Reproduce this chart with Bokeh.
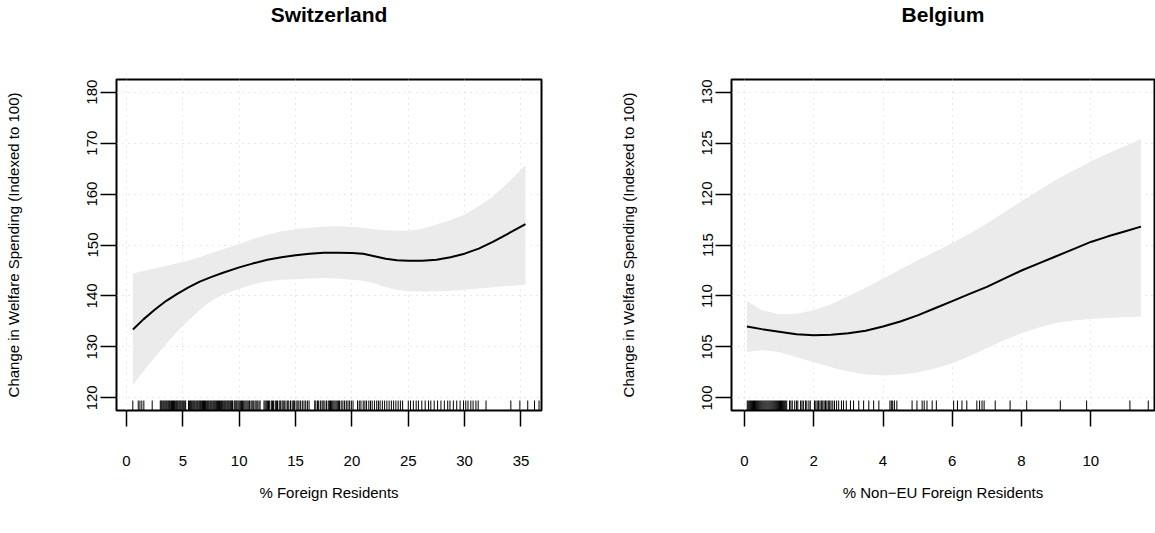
from bokeh.plotting import figure
from bokeh.models import Range1d, FixedTicker, Title
from bokeh.layouts import row
from bokeh.embed import file_html
from bokeh.resources import INLINE

# ---------------- data ----------------
ch_title = "Switzerland"
ch_xlabel = "% Foreign Residents"
ch_x = [0.57, 1.5, 2.5, 3.5, 4.5, 5.5, 6.5, 7.5, 8.5, 10.0, 11.25, 12.5, 13.75, 15.0, 16.25, 17.5,
        18.75, 20.0, 21.0, 22.0, 23.0, 24.0, 25.0, 26.25, 27.5, 28.75, 30.0, 31.25, 32.5, 33.75, 35.4]
ch_fit = [133.4, 135.4, 137.3, 139.0, 140.4, 141.7, 142.8, 143.7, 144.5, 145.6, 146.4, 147.1, 147.6,
          148.0, 148.3, 148.5, 148.5, 148.45, 148.3, 147.8, 147.3, 147.0, 146.9, 146.9, 147.1, 147.6,
          148.3, 149.3, 150.6, 152.1, 154.1]
ch_upper = [144.4, 144.9, 145.4, 145.9, 146.4, 146.9, 147.6, 148.4, 149.1, 150.2, 151.2, 152.0, 152.7,
            153.1, 153.4, 153.6, 153.7, 153.6, 153.4, 153.1, 152.9, 152.8, 152.8, 153.2, 154.0, 154.9,
            156.0, 157.6, 159.5, 162.0, 165.7]
ch_lower = [122.5, 125.2, 127.9, 130.5, 133.0, 135.2, 137.3, 139.0, 140.2, 141.4, 142.3, 142.9, 143.2,
            143.3, 143.4, 143.5, 143.4, 143.2, 143.0, 142.5, 141.7, 141.2, 140.9, 140.85, 140.9, 141.0,
            141.2, 141.45, 141.7, 141.95, 142.2]
ch_rug = [0.56, 1.04, 1.19, 1.36, 1.54, 2.28,
          3.0, 3.08, 3.16, 3.25, 3.33, 3.42, 3.5, 3.58, 3.67, 3.75, 3.83, 3.92, 4.0, 4.08, 4.17, 4.25,
          4.33, 4.42, 4.5, 4.58, 4.67, 4.75, 4.83, 4.92, 5.0, 5.08, 5.17, 5.25,
          5.5, 5.58, 5.67, 5.75, 5.83, 5.92, 6.0, 6.08, 6.17, 6.25, 6.33, 6.42, 6.5, 6.58, 6.67, 6.75,
          6.83, 6.92, 7.0, 7.08, 7.17, 7.25, 7.33, 7.42, 7.5, 7.58, 7.67, 7.75, 7.83, 7.92, 8.0, 8.08,
          8.17, 8.25, 8.33, 8.42, 8.5, 8.58, 8.67, 8.75, 8.83, 8.92, 9.0, 9.08, 9.17, 9.25, 9.33, 9.4,
          9.55, 9.63, 9.72, 9.8, 9.9, 10.0, 10.1, 10.2, 10.3, 10.4, 10.5, 10.6, 10.7, 10.8, 10.92,
          11.05, 11.15, 11.25, 11.4, 11.5, 11.6, 11.75, 11.85,
          12.2, 12.3, 12.4, 12.5, 12.6, 12.7, 12.85, 12.95, 13.05, 13.2, 13.3, 13.4, 13.55, 13.65,
          13.8, 13.9, 14.0, 14.15, 14.3, 14.4, 14.55, 14.7, 14.8, 14.9, 15.05, 15.2, 15.3, 15.45,
          15.6, 15.75, 15.9, 16.05, 16.2,
          16.7, 16.8, 16.95, 17.05, 17.2, 17.35, 17.45, 17.6, 17.75, 17.9, 18.0, 18.1, 18.2, 18.3,
          18.4, 18.5, 18.6, 18.7, 18.8, 18.9, 19.05, 19.2, 19.35, 19.5, 19.65, 19.8, 19.95, 20.1,
          20.5, 20.65, 20.8, 21.0, 21.15, 21.3, 21.5, 21.65, 21.8, 22.0, 22.2, 22.35, 22.5, 22.7,
          22.9, 23.1, 23.3, 23.5, 23.7, 23.9, 24.1, 24.3, 24.5,
          25.0, 25.2, 25.45, 25.7, 25.9, 26.2, 26.5, 26.8, 27.0, 27.3, 27.6,
          27.9, 28.2, 28.5, 28.7, 29.0, 29.3, 29.6, 29.9, 30.1, 30.3, 30.55, 30.75, 31.0, 31.2,
          31.9, 34.1, 34.9, 35.6, 36.2, 36.6]
ch_xticks = [0, 5, 10, 15, 20, 25, 30, 35]
ch_yticks = [120, 130, 140, 150, 160, 170, 180]

be_title = "Belgium"
be_xlabel = "% Non\u2212EU Foreign Residents"
be_x = [0.07, 0.5, 1.0, 1.5, 2.0, 2.5, 3.0, 3.5, 4.0, 4.5, 5.0, 5.5, 6.0, 6.5, 7.0, 7.5, 8.0, 8.5,
        9.0, 9.5, 10.0, 10.5, 11.0, 11.45]
be_fit = [107.0, 106.75, 106.5, 106.25, 106.15, 106.2, 106.35, 106.6, 107.0, 107.5, 108.1, 108.8,
          109.5, 110.2, 110.9, 111.7, 112.5, 113.2, 113.9, 114.6, 115.3, 115.85, 116.35, 116.8]
be_upper = [109.5, 108.6, 108.2, 108.25, 108.6, 109.2, 110.0, 110.8, 111.7, 112.6, 113.5, 114.35,
            115.2, 116.1, 117.1, 118.2, 119.3, 120.35, 121.4, 122.3, 123.2, 124.0, 124.7, 125.4]
be_lower = [104.5, 104.7, 104.5, 104.0, 103.5, 103.0, 102.6, 102.3, 102.2, 102.3, 102.5, 102.9,
            103.4, 104.1, 104.9, 105.65, 106.35, 106.9, 107.35, 107.6, 107.75, 107.85, 107.95, 108.0]
be_rug = [0.08, 0.11, 0.14, 0.17, 0.2, 0.23, 0.26, 0.29, 0.32, 0.35, 0.38, 0.41, 0.44, 0.47, 0.5,
          0.53, 0.56, 0.59, 0.62, 0.65, 0.68, 0.71, 0.74, 0.77, 0.8, 0.83, 0.86, 0.89, 0.92, 0.95,
          0.98, 1.01, 1.04, 1.07, 1.1, 1.13, 1.16, 1.19, 1.22,
          1.3, 1.34, 1.38, 1.45, 1.5, 1.54, 1.62, 1.66, 1.7, 1.76, 1.8, 1.86, 1.9,
          2.02, 2.06, 2.1, 2.14, 2.18, 2.22, 2.26, 2.3, 2.34, 2.38, 2.42, 2.46, 2.5, 2.55, 2.6, 2.66,
          2.72, 2.8, 2.86, 2.94,
          3.06, 3.15, 3.3, 3.44, 3.59, 3.73, 3.88, 4.2, 4.24, 4.28, 4.33, 4.4, 4.84, 4.98, 5.13,
          5.19, 5.27, 5.42, 5.54, 6.04, 6.15, 6.28, 6.42, 6.71, 6.79, 6.86, 6.92, 7.24, 7.67, 8.15,
          9.12, 9.88, 11.13, 11.66]
be_xticks = [0, 2, 4, 6, 8, 10]
be_yticks = [100, 105, 110, 115, 120, 125, 130]

ylab = "Change in Welfare Spending (Indexed to 100)"

FONT = "Liberation Sans"
BAND = "#EBEBEB"
HEIGHT = 533


def panel(title, xlabel, xs, fit, lo, hi, rug, xticks, yticks, xr, yr, width, mbl, mbr, rug_len):
    p = figure(width=width, height=HEIGHT, x_range=Range1d(*xr), y_range=Range1d(*yr),
               output_backend="svg", toolbar_location=None, title=None,
               min_border_left=mbl, min_border_right=mbr, min_border_top=78,
               min_border_bottom=HEIGHT - 410)
    p.background_fill_color = "white"
    p.border_fill_color = "white"
    p.outline_line_color = "black"
    p.outline_line_width = 2
    p.outline_line_alpha = 1

    # spacer between title and frame (added first -> closest to the frame)
    p.add_layout(Title(text="\u00a0", text_font=FONT, text_font_size="46px", standoff=0,
                       text_color="white"), "above")
    p.add_layout(Title(text=title, align="center", text_font=FONT, text_font_size="21px",
                       text_font_style="bold", text_color="black", standoff=0), "above")

    for ax in (p.xaxis, p.yaxis):
        ax.axis_line_color = None
        ax.major_tick_out = 16
        ax.major_tick_in = 0
        ax.major_tick_line_width = 1.5
        ax.major_tick_line_color = "black"
        ax.minor_tick_line_color = None
        ax.major_label_text_font = FONT
        ax.major_label_text_font_size = "15px"
        ax.major_label_text_color = "black"
        ax.axis_label_text_font = FONT
        ax.axis_label_text_font_size = "15px"
        ax.axis_label_text_font_style = "normal"
        ax.axis_label_text_color = "black"
    p.xaxis.ticker = FixedTicker(ticks=xticks)
    p.yaxis.ticker = FixedTicker(ticks=yticks)
    p.xaxis.axis_label = xlabel
    p.yaxis.axis_label = ylab
    p.xaxis.major_label_standoff = 29
    p.xaxis.axis_label_standoff = 15
    p.yaxis.major_label_orientation = "vertical"
    p.yaxis.major_label_standoff = 3
    p.yaxis.axis_label_standoff = 63

    p.xgrid.ticker = FixedTicker(ticks=xticks)
    p.ygrid.ticker = FixedTicker(ticks=yticks)
    for g in (p.xgrid, p.ygrid):
        g.grid_line_color = "#D3D3D3"
        g.grid_line_dash = "1 5"
        g.grid_line_width = 1

    p.varea(x=xs, y1=lo, y2=hi, fill_color=BAND, fill_alpha=1)
    p.line(xs, fit, line_color="black", line_width=2)
    p.segment(x0=rug, y0=[yr[0]] * len(rug), x1=rug, y1=[yr[0] + rug_len] * len(rug),
              line_color="black", line_width=1)
    return p


p1 = panel(ch_title, ch_xlabel, ch_x, ch_fit, ch_lower, ch_upper, ch_rug, ch_xticks, ch_yticks,
           (-0.887, 36.82), (117.51, 182.49), 613, 116, 72, 1.96)
p2 = panel(be_title, be_xlabel, be_x, be_fit, be_lower, be_upper, be_rug, be_xticks, be_yticks,
           (-0.375, 11.84), (98.77, 131.23), 542, 118, 1, 0.98)

layout = row(p1, p2)
open("out.html", "w").write(file_html(layout, INLINE))
